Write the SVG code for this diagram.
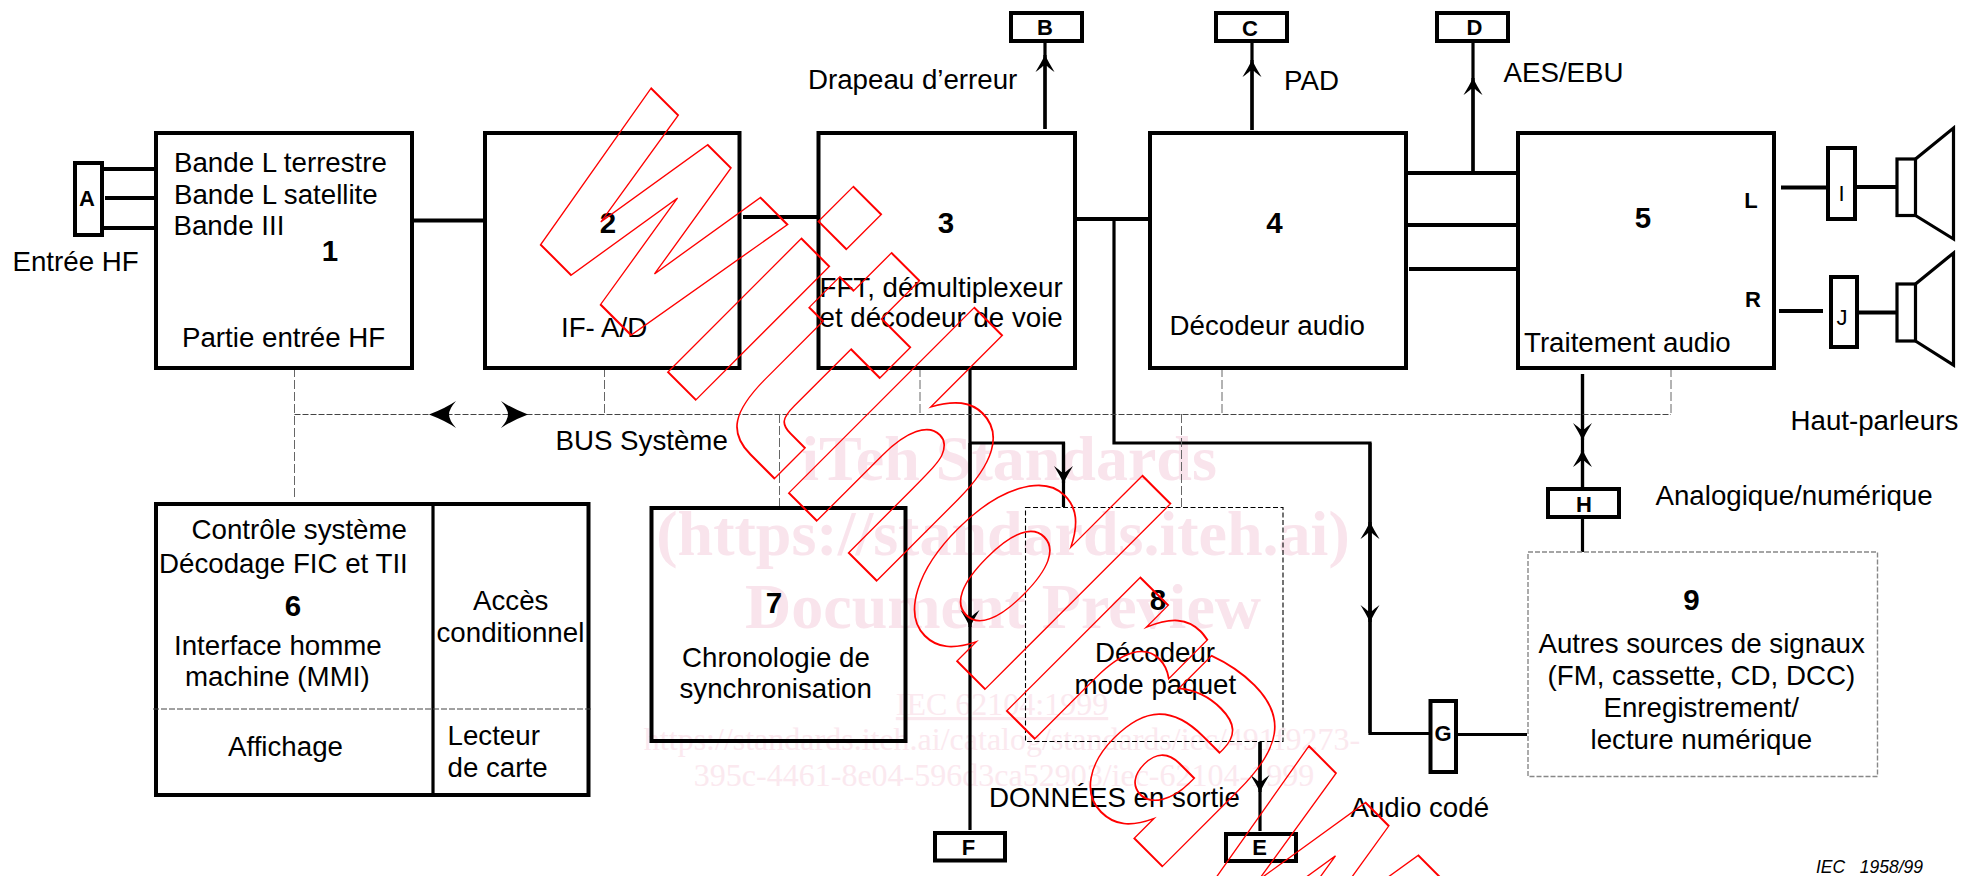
<svg xmlns="http://www.w3.org/2000/svg" width="1964" height="876" viewBox="0 0 1964 876">
<style>
text{font-family:"Liberation Sans",Arial,sans-serif;font-size:27.7px;fill:#000;white-space:pre}
.n{font-weight:bold;font-size:29.5px;text-anchor:middle}
.l{font-weight:bold;font-size:22px;text-anchor:middle}
.r{font-size:22px;text-anchor:middle}
.box{fill:none;stroke:#000;stroke-width:4}
.lab{fill:#fff;stroke:#000;stroke-width:4}
.t4{fill:none;stroke:#000;stroke-width:4}
.t3{fill:none;stroke:#000;stroke-width:3.2}
.bus{fill:none;stroke:#444;stroke-width:1;stroke-dasharray:6 2}
.gd{fill:none;stroke:#666;stroke-width:1;stroke-dasharray:9 3}
.kd{fill:none;stroke:#000;stroke-width:1.1;stroke-dasharray:5 2.5}
.g9{fill:none;stroke:#888;stroke-width:1.4;stroke-dasharray:5 2}
.p1{font-family:"Liberation Serif",serif;font-weight:bold;font-size:64px;fill:#f9e4ec;text-anchor:middle}
.p2{font-family:"Liberation Serif",serif;font-size:32px;fill:#fbe9ef;text-anchor:middle}
.wm{font-family:"DejaVu Sans",sans-serif;font-weight:bold;font-size:345px;letter-spacing:-11px;fill:none;stroke:#f00;stroke-width:1.7}
</style>
<defs>
<marker id="ah" markerUnits="userSpaceOnUse" markerWidth="20" markerHeight="22" refX="18" refY="11" orient="auto" viewBox="0 0 20 22">
<path d="M18,11 Q10,7 1,1.5 Q5,7 7,9 L7,13 Q5,15 1,20.5 Q10,15 18,11Z" fill="#000"/>
</marker>
</defs>
<g id="background-watermark">
<text class="p1" x="1009" y="480">iTeh Standards</text>
<text class="p1" x="1003" y="555">(https://standards.iteh.ai)</text>
<text class="p1" x="1003" y="628">Document Preview</text>
<text class="p2" x="1002" y="715" text-decoration="underline">IEC 62104:1999</text>
<text class="p2" x="1002" y="750">https://standards.iteh.ai/catalog/standards/iec/491f9273-</text>
<text class="p2" x="1004" y="786">395c-4461-8e04-596d3ca52903/iec-62104-1999</text>
</g>
<g id="connectors">
<path class="t4" d="M102,169H155M105,198H155M102,228H155M412,220.5H485M743,217H818M1075,219H1150M1406,173H1518M1406,225H1518M1409,269H1516M1781,187.5H1828M1855,187H1896M1779,311H1823M1857,312.5H1896"/>
<path class="t3" d="M1045,129V41M1252,130V41M1473,173V41"/>
<path class="t3" d="M1045,129V55" marker-end="url(#ah)"/>
<path class="t3" d="M1252,130V60" marker-end="url(#ah)"/>
<path class="t3" d="M1473,173V78" marker-end="url(#ah)"/>
<path class="t3" d="M970,368V830M970,443H1063.5V507M1114,219V443H1370V733.5H1430M1456,734.5H1527M1260,742V831M1582.5,374V489M1582.5,517V552"/>
<path class="t3" d="M970,443V627" marker-end="url(#ah)"/>
<path class="t3" d="M1063.5,443V483" marker-end="url(#ah)"/>
<path class="t3" d="M1370,733V522" marker-end="url(#ah)"/>
<path class="t3" d="M1370,443V622" marker-end="url(#ah)"/>
<path class="t3" d="M1260,742V792" marker-end="url(#ah)"/>
<path class="t3" d="M1582.5,374V440" marker-end="url(#ah)"/>
<path class="t3" d="M1582.5,489V450" marker-end="url(#ah)"/>
<path class="bus" d="M294.5,414.5H1671"/>
<path class="gd" d="M294.5,368V500M604.5,368V414M779.5,414V506M920,368V414M1222,368V414M1671,368V414M1181.5,414V507"/>
<path d="M429,414.5Q446,408 456,401Q449,409 449,414.5Q449,420 456,428Q446,421 429,414.5Z" fill="#000"/>
<path d="M528,414.5Q511,408 501,401Q508,409 508,414.5Q508,420 501,428Q511,421 528,414.5Z" fill="#000"/>
</g>
<g id="node-A"><rect class="lab" x="75" y="163" width="27" height="72"/><text class="l" x="87" y="205.5">A</text></g>
<g id="node-B"><rect class="lab" x="1011" y="13" width="71" height="28"/><text class="l" x="1045" y="34.5">B</text></g>
<g id="node-C"><rect class="lab" x="1216" y="13" width="71" height="28"/><text class="l" x="1250" y="36">C</text></g>
<g id="node-D"><rect class="lab" x="1437" y="13" width="71" height="28"/><text class="l" x="1474.5" y="34.5">D</text></g>
<g id="node-E"><rect class="lab" x="1226" y="834" width="70" height="27"/><text class="l" x="1259.5" y="855">E</text></g>
<g id="node-F"><rect class="lab" x="935" y="833" width="70" height="27.5"/><text class="l" x="968.5" y="855">F</text></g>
<g id="node-G"><rect class="lab" x="1430.5" y="701" width="25.5" height="71"/><text class="l" x="1443" y="741">G</text></g>
<g id="node-H"><rect class="lab" x="1548" y="489" width="71" height="28"/><text class="l" x="1584" y="511.5">H</text></g>
<g id="node-I"><rect class="lab" x="1828" y="148" width="27" height="71"/><text class="r" x="1841.5" y="201">I</text></g>
<g id="node-J"><rect class="lab" x="1831" y="277" width="26" height="70"/><text class="r" x="1842" y="325">J</text></g>
<g id="speaker-L"><rect class="t3" x="1897" y="159" width="18.5" height="56.5"/><path class="t3" d="M1915.5,159L1953.5,128V239L1915.5,215.5"/></g>
<g id="speaker-R"><rect class="t3" x="1897" y="284" width="18.5" height="57"/><path class="t3" d="M1915.5,284L1953.5,253V365L1915.5,341"/></g>
<g id="node-1"><rect class="box" x="156" y="133" width="256" height="235"/>
<text x="174" y="171.5">Bande L terrestre</text><text x="174" y="204">Bande L satellite</text><text x="173.5" y="235">Bande III</text>
<text class="n" x="330" y="260.5">1</text><text x="182" y="346.5">Partie entrée HF</text></g>
<g id="node-2"><rect class="box" x="485" y="133" width="254.5" height="235"/><text class="n" x="608" y="232.5">2</text><text x="561" y="337">IF- A/D</text></g>
<g id="node-3"><rect class="box" x="818.5" y="133" width="256.5" height="235"/><text class="n" x="946" y="232.5">3</text>
<text x="819.5" y="296.5">FFT, démultiplexeur</text><text x="819.5" y="327">et décodeur de voie</text></g>
<g id="node-4"><rect class="box" x="1150" y="133" width="256" height="235"/><text class="n" x="1274.5" y="232.5">4</text><text x="1169.5" y="335">Décodeur audio</text></g>
<g id="node-5"><rect class="box" x="1518" y="133" width="256" height="235"/><text class="n" x="1643" y="228">5</text>
<text x="1524" y="351.5">Traitement audio</text><text class="l" x="1751" y="208">L</text><text class="l" x="1753" y="307">R</text></g>
<g id="node-6"><rect class="box" x="156" y="504" width="432.5" height="291"/><path class="t3" d="M433,504V795"/><path class="bus" d="M153,709H591"/>
<text x="191.5" y="538.5">Contrôle système</text><text x="159" y="572.5">Décodage FIC et TII</text><text class="n" x="293" y="616">6</text>
<text x="174" y="654.5">Interface homme</text><text x="185" y="686">machine (MMI)</text><text x="228" y="756">Affichage</text>
<text x="473" y="610">Accès</text><text x="436.5" y="641.5">conditionnel</text><text x="447.5" y="745">Lecteur</text><text x="447.5" y="776.5">de carte</text></g>
<g id="node-7"><rect class="box" x="651.5" y="508" width="254" height="233"/><text class="n" x="774" y="613">7</text>
<text x="682" y="666.5">Chronologie de</text><text x="679.5" y="698">synchronisation</text></g>
<g id="node-8"><rect class="kd" x="1025.5" y="507.5" width="257.5" height="234"/><text class="n" x="1158" y="609.5">8</text>
<text x="1095" y="661.5">Décodeur</text><text x="1074.5" y="693.5">mode paquet</text></g>
<g id="node-9"><rect class="g9" x="1528" y="552" width="349.5" height="224.5"/><text class="n" x="1691.5" y="609.5">9</text>
<text x="1538.5" y="652.5">Autres sources de signaux</text><text x="1547.5" y="685">(FM, cassette, CD, DCC)</text><text x="1603.5" y="716.5">Enregistrement/</text><text x="1590.5" y="748.5">lecture numérique</text></g>
<g id="labels">
<text x="12.5" y="271">Entrée HF</text><text x="808" y="88.5">Drapeau d’erreur</text><text x="1284" y="89.5">PAD</text><text x="1503.5" y="81.5">AES/EBU</text>
<text x="1790.5" y="429.5">Haut-parleurs</text><text x="1655.5" y="505">Analogique/numérique</text><text x="555.5" y="450">BUS Système</text>
<text x="989" y="806.5">DONNÉES en sortie</text><text x="1350.5" y="816.5">Audio codé</text>
<text x="1816" y="872.5" font-style="italic" style="font-size:17.5px">IEC   1958/99</text>
</g>
<g id="withdrawn-watermark"><text class="wm" transform="translate(512 216) rotate(45) scale(.655 1)" style="vector-effect:non-scaling-stroke">withdrawn</text></g>
</svg>
